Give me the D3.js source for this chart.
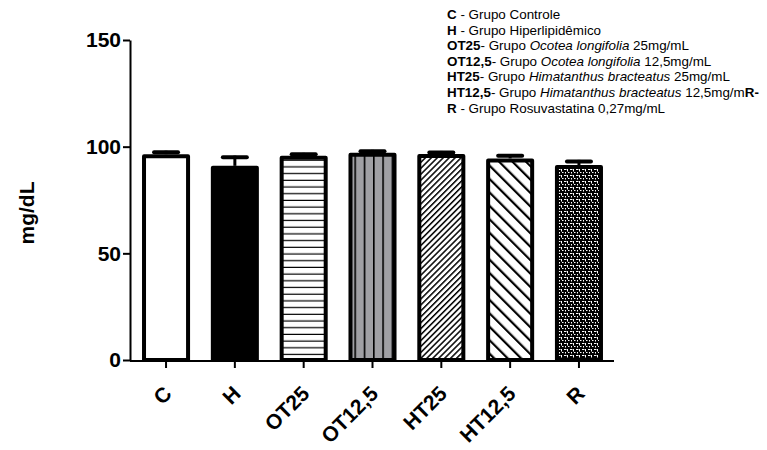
<!DOCTYPE html>
<html>
<head>
<meta charset="utf-8">
<script src="https://d3js.org/d3.v7.min.js"></script>
<style>
  body { margin: 0; background: #fff; }
  svg { font-family: "Liberation Sans", Arial, sans-serif; }
  .axis path, .axis line { stroke: #000; stroke-width: 2px; }
  .axis text { font-size: 21px; font-weight: bold; fill: #000; }
</style>
</head>
<body>
<svg id="chart" width="767" height="450"></svg>
<script>
// data
var categories = ["C", "H", "OT25", "OT12,5", "HT25", "HT12,5", "R"];
var means = [96.5, 91, 95.7, 97.2, 96.6, 94.5, 91.4];
var errors = [1.6, 4.8, 1.4, 1.3, 1.4, 1.9, 2.4];
var fills = ["white", "black", "url(#hlines)", "url(#vlines)", "url(#dense)", "url(#sparse)", "url(#dots)"];
var yTicks = [0, 50, 100, 150];

var legendLines = [
  [["C", "b"], [" - Grupo Controle", ""]],
  [["H", "b"], [" - Grupo Hiperlipidêmico", ""]],
  [["OT25", "b"], ["- Grupo ", ""], ["Ocotea longifolia", "i"], [" 25mg/mL", ""]],
  [["OT12,5", "b"], ["- Grupo ", ""], ["Ocotea longifolia", "i"], [" 12,5mg/mL", ""]],
  [["HT25", "b"], ["- Grupo ", ""], ["Himatanthus bracteatus", "i"], [" 25mg/mL", ""]],
  [["HT12,5", "b"], ["- Grupo ", ""], ["Himatanthus bracteatus", "i"], [" 12,5mg/m", ""], ["R-", "b"]],
  [["R", "b"], [" - Grupo Rosuvastatina 0,27mg/mL", ""]]
];

var svg = d3.select("#chart");
var defs = svg.append("defs");

// fill patterns
var p = defs.append("pattern").attr("id", "hlines").attr("patternUnits", "userSpaceOnUse")
  .attr("width", 8).attr("height", 6.7);
p.append("rect").attr("width", 8).attr("height", 6.7).attr("fill", "#fff");
p.append("rect").attr("y", 5.5).attr("width", 8).attr("height", 1.2).attr("fill", "#000");

p = defs.append("pattern").attr("id", "vlines").attr("patternUnits", "userSpaceOnUse")
  .attr("width", 9.3).attr("height", 8).attr("x", 1);
p.append("rect").attr("width", 9.3).attr("height", 8).attr("fill", "#a0a0a4");
p.append("rect").attr("x", 0).attr("width", 1.6).attr("height", 8).attr("fill", "#000");

p = defs.append("pattern").attr("id", "dense").attr("patternUnits", "userSpaceOnUse")
  .attr("width", 4.2).attr("height", 4.2).attr("patternTransform", "rotate(45)");
p.append("rect").attr("width", 4.2).attr("height", 4.2).attr("fill", "#fff");
p.append("rect").attr("width", 1.5).attr("height", 4.2).attr("fill", "#000");

p = defs.append("pattern").attr("id", "sparse").attr("patternUnits", "userSpaceOnUse")
  .attr("width", 9.5).attr("height", 9.5).attr("patternTransform", "rotate(-45)");
p.append("rect").attr("width", 9.5).attr("height", 9.5).attr("fill", "#fff");
p.append("rect").attr("width", 2.2).attr("height", 9.5).attr("fill", "#000");

p = defs.append("pattern").attr("id", "dots").attr("patternUnits", "userSpaceOnUse")
  .attr("width", 6).attr("height", 6);
p.append("rect").attr("width", 6).attr("height", 6).attr("fill", "#000");
p.append("rect").attr("x", 0).attr("y", 1).attr("width", 2.5).attr("height", 1).attr("fill", "#fff");
p.append("rect").attr("x", 3).attr("y", 1).attr("width", 1).attr("height", 2.5).attr("fill", "#fff");
p.append("rect").attr("x", 4).attr("y", 4).attr("width", 1.5).attr("height", 1).attr("fill", "#fff");
p.append("rect").attr("x", 1).attr("y", 4).attr("width", 1).attr("height", 1.5).attr("fill", "#fff");

var x0 = 130, x1 = 614;
var x = d3.scaleBand().domain(categories).range([131.7, 613.3]).paddingInner(0.302).paddingOuter(0.15);
var y = d3.scaleLinear().domain([0, 150]).range([360, 40]);

// bars
var g = svg.append("g");
g.selectAll("rect.bar").data(categories).enter().append("rect")
  .attr("class", "bar")
  .attr("x", function(d) { return x(d) + 2; })
  .attr("width", x.bandwidth() - 4)
  .attr("y", function(d, i) { return y(means[i]) + 2; })
  .attr("height", function(d, i) { return y(0) - y(means[i]) - 2; })
  .attr("fill", function(d, i) { return fills[i]; })
  .attr("stroke", "#000").attr("stroke-width", 4).attr("stroke-linejoin", "round");

// error bars (upward only)
g.selectAll("line.err").data(categories).enter().append("line")
  .attr("x1", function(d) { return x(d) + x.bandwidth() / 2; })
  .attr("x2", function(d) { return x(d) + x.bandwidth() / 2; })
  .attr("y1", function(d, i) { return y(means[i]); })
  .attr("y2", function(d, i) { return y(means[i] + errors[i]); })
  .attr("stroke", "#000").attr("stroke-width", 3);
g.selectAll("line.cap").data(categories).enter().append("line")
  .attr("x1", function(d) { return x(d) + x.bandwidth() / 2 - 12; })
  .attr("x2", function(d) { return x(d) + x.bandwidth() / 2 + 12; })
  .attr("y1", function(d, i) { return y(means[i] + errors[i]) + 1.5; })
  .attr("y2", function(d, i) { return y(means[i] + errors[i]) + 1.5; })
  .attr("stroke", "#000").attr("stroke-width", 4).attr("stroke-linecap", "round");

// y axis
var yAxis = svg.append("g").attr("class", "axis").attr("transform", "translate(" + x0 + ",0)")
  .call(d3.axisLeft(y).tickValues(yTicks).tickSizeInner(7).tickSizeOuter(0).tickPadding(2));

// x axis
var xAxis = svg.append("g").attr("class", "axis").attr("transform", "translate(0,361)")
  .call(d3.axisBottom(x).tickSizeInner(7).tickSizeOuter(0));
xAxis.select(".domain").attr("d", "M" + x0 + ",0H" + x1);
xAxis.selectAll(".tick text")
  .attr("text-anchor", "end")
  .attr("dy", 0).attr("y", 0)
  .attr("transform", "translate(7,34) rotate(-45)");

// y label
svg.append("text")
  .attr("transform", "translate(34,213) rotate(-90)")
  .attr("text-anchor", "middle")
  .style("font-size", "21px").style("font-weight", "bold")
  .text("mg/dL");

// legend
var leg = svg.append("g").attr("transform", "translate(447,19)");
legendLines.forEach(function(line, i) {
  var t = leg.append("text").attr("y", i * 15.6).style("font-size", "13.4px");
  line.forEach(function(seg) {
    t.append("tspan")
      .style("font-weight", seg[1] == "b" ? "bold" : "normal")
      .style("font-style", seg[1] == "i" ? "italic" : "normal")
      .text(seg[0]);
  });
});
</script>
</body>
</html>
